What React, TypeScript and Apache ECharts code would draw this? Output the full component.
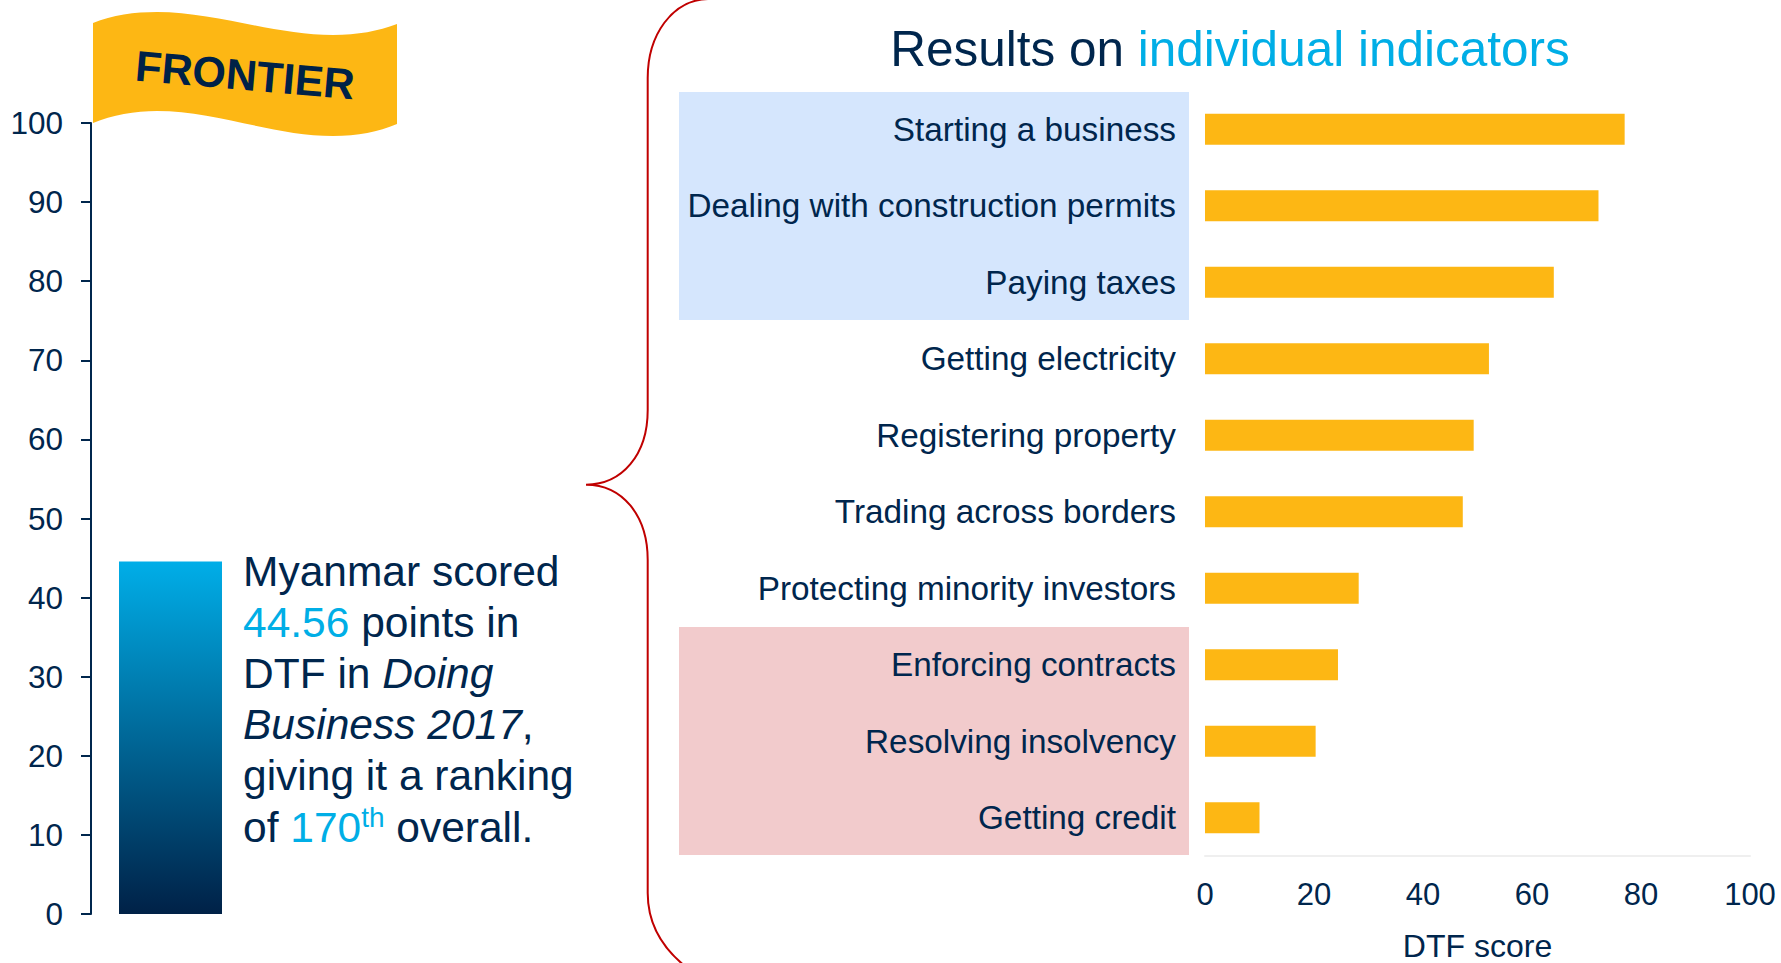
import React, { useEffect, useRef } from "react";
import * as echarts from "echarts";

const FONT = "'Liberation Sans', Arial, sans-serif";
const NAVY = "#00264D";
const CYAN = "#00AEE6";
const GOLD = "#FDB714";

const indicators = [
  "Starting a business",
  "Dealing with construction permits",
  "Paying taxes",
  "Getting electricity",
  "Registering property",
  "Trading across borders",
  "Protecting minority investors",
  "Enforcing contracts",
  "Resolving insolvency",
  "Getting credit",
];
const indicatorScores = [77.0, 72.2, 64.0, 52.1, 49.3, 47.3, 28.2, 24.4, 20.3, 10.0];
const overallCategory = ["Myanmar"];
const overallScore = [44.56];

const FLAG_D =
  "M93 23 C112 15 135 12 157 12 C215 12 275 35 333 35 C358 35 378 31 397 24 L397 124 C378 132 358 136 333 136 C275 136 215 111 157 111 C135 111 112 115 93 123 Z";
const BRACE_D =
  "M708 -1 C672 0 647.7 35 647.7 78 L647.7 410 C647.7 455 622 484.7 586 484.7 C622 484.7 647.7 515 647.7 560 L647.7 893 C647.7 925 663 950 690 970";

echarts.graphic.registerShape("flagShape", echarts.graphic.extendPath(FLAG_D, {}));
echarts.graphic.registerShape("braceShape", echarts.graphic.extendPath(BRACE_D, {}));

const LINE = 51.2;
const bodyLines = [
  "{n|Myanmar scored}",
  "{c|44.56}{n| points in}",
  "{n|DTF in }{i|Doing}",
  "{i|Business 2017}{n|,}",
  "{n|giving it a ranking}",
  "{n|of }{c|170}{s|th}{n| overall.}",
];

export default function App() {
  const ref = useRef<HTMLDivElement>(null);
  useEffect(() => {
    document.body.style.margin = "0";
    const chart = echarts.init(ref.current!, null, { renderer: "svg" });
    const base = { fontSize: 42.5, fontFamily: FONT, lineHeight: 48 };
    chart.setOption({
      animation: false,
      backgroundColor: "#ffffff",
      textStyle: { fontFamily: FONT },
      grid: [
        { left: 91, top: 123, width: 159, height: 791, outerBoundsMode: "none" },
        { left: 1205, top: 91, width: 545, height: 765, outerBoundsMode: "none" },
      ],
      xAxis: [
        {
          type: "category",
          gridIndex: 0,
          data: overallCategory,
          axisLine: { show: false },
          axisTick: { show: false },
          axisLabel: { show: false },
        },
        {
          type: "value",
          gridIndex: 1,
          min: 0,
          max: 100,
          interval: 20,
          splitLine: { show: false },
          axisLine: { show: true, lineStyle: { color: "#EFEFEF", width: 2 } },
          axisTick: { show: false },
          axisLabel: { color: NAVY, fontSize: 31, fontFamily: FONT, margin: 23 },
          name: "DTF score",
          nameLocation: "middle",
          nameGap: 74,
          nameTextStyle: { color: NAVY, fontSize: 32, fontFamily: FONT },
        },
      ],
      yAxis: [
        {
          type: "value",
          gridIndex: 0,
          min: 0,
          max: 100,
          interval: 10,
          splitLine: { show: false },
          axisLine: { show: true, lineStyle: { color: NAVY, width: 2 } },
          axisTick: { show: true, length: 10, lineStyle: { color: NAVY, width: 2 } },
          axisLabel: { color: NAVY, fontSize: 31.5, fontFamily: FONT, margin: 28 },
        },
        {
          type: "category",
          gridIndex: 1,
          inverse: true,
          data: indicators,
          axisLine: { show: false },
          axisTick: { show: false },
          axisLabel: { color: NAVY, fontSize: 33.3, fontFamily: FONT, margin: 29, padding: [0, 0, 2, 0] },
        },
      ],
      series: [
        {
          type: "bar",
          xAxisIndex: 0,
          yAxisIndex: 0,
          data: overallScore,
          barWidth: 103,
          itemStyle: {
            color: new echarts.graphic.LinearGradient(0, 0, 0, 1, [
              { offset: 0, color: "#00AEE8" },
              { offset: 1, color: "#002147" },
            ]),
          },
          z: 3,
        },
        {
          type: "bar",
          xAxisIndex: 1,
          yAxisIndex: 1,
          data: indicatorScores,
          barWidth: 31,
          itemStyle: { color: GOLD },
          z: 3,
        },
      ],
      graphic: {
        elements: [
          { type: "rect", z: -10, shape: { x: 679, y: 92, width: 510, height: 228 }, style: { fill: "#D5E6FD" } },
          { type: "rect", z: -10, shape: { x: 679, y: 627, width: 510, height: 228 }, style: { fill: "#F2CBCC" } },
          { type: "flagShape", z: 1, style: { fill: GOLD } },
          {
            type: "text",
            z: 5,
            x: 245,
            y: 75,
            rotation: (-5 * Math.PI) / 180,
            originX: 0,
            originY: 0,
            style: {
              text: "FRONTIER",
              fill: "#002147",
              fontFamily: FONT,
              fontWeight: "bold",
              fontSize: 43,
              align: "center",
              verticalAlign: "middle",
            },
          },
          { type: "braceShape", z: 1, style: { fill: "none", stroke: "#C00000", lineWidth: 2 } },
          {
            type: "text",
            z: 5,
            x: 1230,
            y: 48,
            style: {
              text: "{n|Results on }{c|individual indicators}",
              align: "center",
              verticalAlign: "middle",
              rich: {
                n: { fontSize: 49.5, fontFamily: FONT, fill: NAVY, color: NAVY },
                c: { fontSize: 49.5, fontFamily: FONT, fill: CYAN, color: CYAN },
              },
            },
          },
          ...bodyLines.map((text, i) => ({
            type: "text",
            z: 5,
            x: 243,
            y: 571 + i * LINE,
            style: {
              text,
              align: "left",
              verticalAlign: "middle",
              rich: {
                n: { ...base, fill: NAVY, color: NAVY },
                c: { ...base, fill: CYAN, color: CYAN },
                i: { ...base, fill: NAVY, color: NAVY, fontStyle: "italic" },
                s: { fontSize: 28, fontFamily: FONT, lineHeight: 48, fill: CYAN, color: CYAN, verticalAlign: "top" },
              },
            },
          })),
        ],
      },
    });
    return () => chart.dispose();
  }, []);
  return <div ref={ref} style={{ width: 1781, height: 963, position: "absolute", left: 0, top: 0 }} />;
}
